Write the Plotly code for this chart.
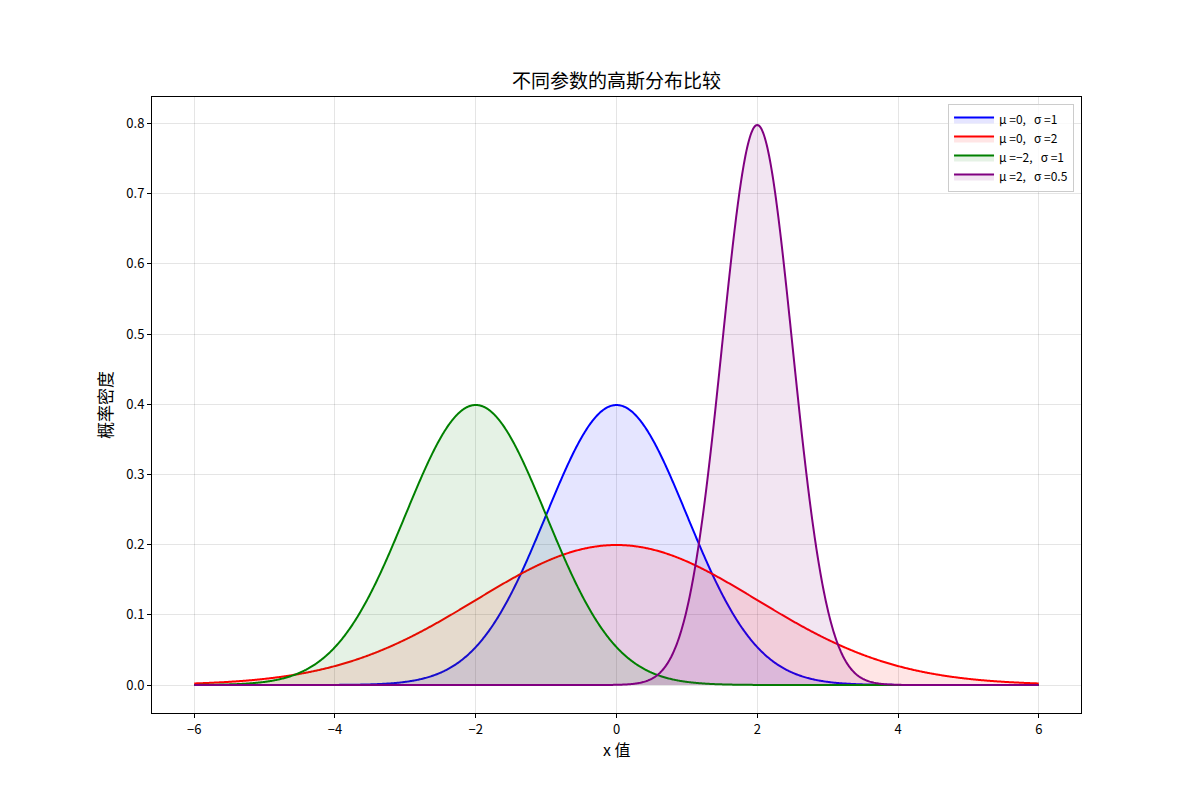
import numpy as np
import plotly.graph_objects as go

# Parameters
mus = [0, 0, -2, 2]
sigmas = [1, 2, 1, 0.5]
labels = ["μ =0,   σ =1", "μ =0,   σ =2", "μ =−2,   σ =1", "μ =2,   σ =0.5"]
colors = ["blue", "red", "green", "purple"]
fills = ["rgba(0,0,255,0.1)", "rgba(255,0,0,0.1)", "rgba(0,128,0,0.1)", "rgba(128,0,128,0.1)"]

x_min, x_max = -6, 6
x = np.linspace(x_min, x_max, 1000)

font = "Noto Sans CJK SC, DejaVu Sans, sans-serif"
off = 7  # page body offset

fig = go.Figure()
for mu, s, lab, c, fc in zip(mus, sigmas, labels, colors, fills):
    y = np.exp(-0.5 * ((x - mu) / s) ** 2) / (s * np.sqrt(2 * np.pi))
    fig.add_trace(go.Scatter(x=x, y=y, mode="lines", name=lab,
                             line=dict(color=c, width=2, simplify=False),
                             fill="tozeroy", fillcolor=fc))

fig.update_layout(
    width=1200, height=800,
    margin=dict(l=151 - off, r=120 + off, t=96 - off, b=88 + off, autoexpand=False),
    paper_bgcolor="white", plot_bgcolor="white",
    font=dict(family=font, size=13, color="black"),
    title=dict(text="不同参数的高斯分布比较", x=(615.5 - off) / 1200, xanchor="center",
               y=1 - (80 - off) / 800, yref="container", yanchor="middle",
               font=dict(size=19, family=font)),
    legend=dict(x=0.9925, y=0.9886, xanchor="right", yanchor="top",
                bordercolor="#cccccc", borderwidth=1,
                bgcolor="rgba(255,255,255,0.8)", font=dict(size=12),
                tracegroupgap=0, itemwidth=40),
    showlegend=True,
    annotations=[dict(text="x 值", xref="paper", yref="paper", x=0.5, y=-36 / 616,
                      xanchor="center", yanchor="middle", showarrow=False,
                      font=dict(size=16, family=font))],
)
fig.update_xaxes(range=[-6.6, 6.6], tickvals=[-6, -4, -2, 0, 2, 4, 6],
                 ticks="outside", ticklen=4, tickcolor="black",
                 showline=True, mirror=True, linecolor="black", linewidth=1,
                 showgrid=True, gridcolor="rgba(0,0,0,0.1)", gridwidth=1,
                 zeroline=False, automargin=False)
fig.update_yaxes(range=[-0.0399, 0.8378], tickvals=[0, 0.1, 0.2, 0.3, 0.4, 0.5, 0.6, 0.7, 0.8],
                 tickformat=".1f",
                 ticks="outside", ticklen=4, tickcolor="black",
                 showline=True, mirror=True, linecolor="black", linewidth=1,
                 showgrid=True, gridcolor="rgba(0,0,0,0.1)", gridwidth=1,
                 zeroline=False, automargin=False,
                 title=dict(text="概率密度", font=dict(size=17), standoff=9))

fig.write_html("out.html")
